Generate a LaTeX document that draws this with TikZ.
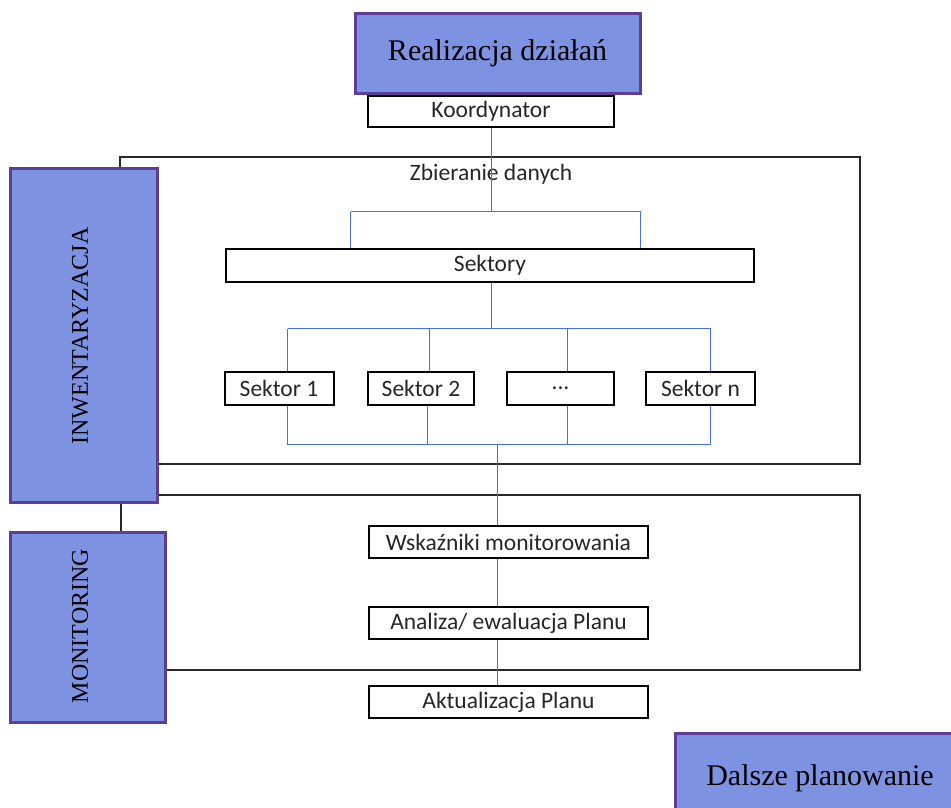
\documentclass[tikz,border=0pt]{standalone}
\usepackage{fontspec}
\setmainfont{Liberation Serif}
\newfontfamily\calib{Carlito}
\definecolor{boxblue}{RGB}{126,146,226}
\definecolor{boxpurple}{RGB}{92,62,152}
\definecolor{linkblue}{RGB}{70,110,230}
\definecolor{framegray}{RGB}{40,40,40}
\tikzset{
  bigbox/.style={draw=boxpurple, line width=3pt, fill=boxblue, inner sep=0pt, font=\fontsize{30}{34}\selectfont},
  sidebox/.style={draw=boxpurple, line width=3pt, fill=boxblue, inner sep=0pt},
  sidelabel/.style={rotate=90, font=\fontsize{24}{28}\selectfont},
  smallbox/.style={draw=black, line width=2pt, fill=white, inner sep=0pt, minimum height=32pt, text=black!85, font=\calib\fontsize{23.5}{26}\selectfont},
  plain/.style={inner sep=0pt, text=black!85, font=\calib\fontsize{23.5}{26}\selectfont},
  frame/.style={draw=framegray, line width=1.3pt},
  link/.style={draw=linkblue, line width=1pt}
}
\begin{document}
\begin{tikzpicture}[x=1pt,y=-1pt]
\useasboundingbox (0,0) rectangle (951,808);
% side boxes
\node[sidebox, minimum width=147pt, minimum height=334pt] (inw) at (83.5,335) {};
\node[sidelabel] (inwl) at (80,336) {INWENTARYZACJA};
\node[sidebox, minimum width=155pt, minimum height=190pt] (mon) at (87.5,627) {};
\node[sidelabel] (monl) at (80,626) {MONITORING};
% frames
\coordinate (f1a) at (120,157);
\coordinate (f1b) at (860,157);
\coordinate (f1c) at (860,464);
\draw[frame] (inw.north -| f1a) -- (f1a) -- (f1b) -- (f1c) -- (inw.east |- f1c);
\coordinate (f2b) at (860,495);
\coordinate (f2c) at (860,670);
\draw[frame] (inw.east |- f2b) -- (f2b) -- (f2c) -- (mon.east |- f2c);
\coordinate (lk) at (121,0);
\draw[frame] (inw.south -| lk) -- (mon.north -| lk);
% top
\node[bigbox, minimum width=285pt, minimum height=80pt] (real) at (497.5,53.5) {Realizacja działań};
\node[smallbox, minimum width=246pt, minimum height=31pt] (koord) at (491,111.5) {Koordynator};
\node[plain] (zb) at (491,174) {Zbieranie danych};
\node[smallbox, minimum width=528pt, minimum height=33pt] (sekt) at (490,265) {Sektory};
% sectors
\node[smallbox, minimum width=109pt, minimum height=33pt] (s1) at (279,388.5) {Sektor 1};
\node[smallbox, minimum width=106pt, minimum height=33pt] (s2) at (421,388.5) {Sektor 2};
\node[smallbox, minimum width=107pt, minimum height=33pt] (s3) at (560.5,388.5) {...};
\node[smallbox, minimum width=109pt, minimum height=33pt] (sn) at (700.5,388.5) {Sektor n};
% monitoring chain
\node[smallbox, minimum width=279pt] (wsk) at (508.5,542) {Wskaźniki monitorowania};
\node[smallbox, minimum width=279pt] (anal) at (508.5,623) {Analiza/ ewaluacja Planu};
\node[smallbox, minimum width=279pt] (akt) at (508.5,702) {Aktualizacja Planu};
% bottom right
\node[bigbox, minimum width=290pt, minimum height=90pt] (dal) at (820,778) {Dalsze planowanie};
% connectors
\coordinate (b1m) at (491.5,211.5);
\coordinate (b1l) at (350.5,211.5);
\coordinate (b1r) at (640.5,211.5);
\draw[link] (koord.south -| b1m) -- (b1m);
\draw[link] (b1l) -- (b1r);
\draw[link] (b1l) -- (sekt.north -| b1l);
\draw[link] (b1r) -- (sekt.north -| b1r);
\coordinate (b2m) at (491.5,328.5);
\coordinate (b2l) at (287.5,328.5);
\coordinate (b2r) at (710.5,328.5);
\coordinate (x2) at (429.5,0);
\coordinate (x3) at (567.5,0);
\draw[link] (sekt.south -| b2m) -- (b2m);
\draw[link] (b2l) -- (b2r);
\draw[link] (b2l) -- (s1.north -| b2l);
\draw[link] (b2m -| x2) -- (s2.north -| x2);
\draw[link] (b2m -| x3) -- (s3.north -| x3);
\draw[link] (b2r) -- (sn.north -| b2r);
\coordinate (b3m) at (497.5,444.5);
\coordinate (b3l) at (287.5,444.5);
\coordinate (b3r) at (710.5,444.5);
\coordinate (y2) at (427.5,0);
\draw[link] (s1.south -| b3l) -- (b3l) -- (b3r) -- (sn.south -| b3r);
\draw[link] (s2.south -| y2) -- (b3m -| y2);
\draw[link] (s3.south -| x3) -- (b3m -| x3);
\draw[link] (b3m) -- (wsk.north -| b3m);
\draw[link] (wsk.south -| b3m) -- (anal.north -| b3m);
\draw[link] (anal.south -| b3m) -- (akt.north -| b3m);
\end{tikzpicture}
\end{document}
